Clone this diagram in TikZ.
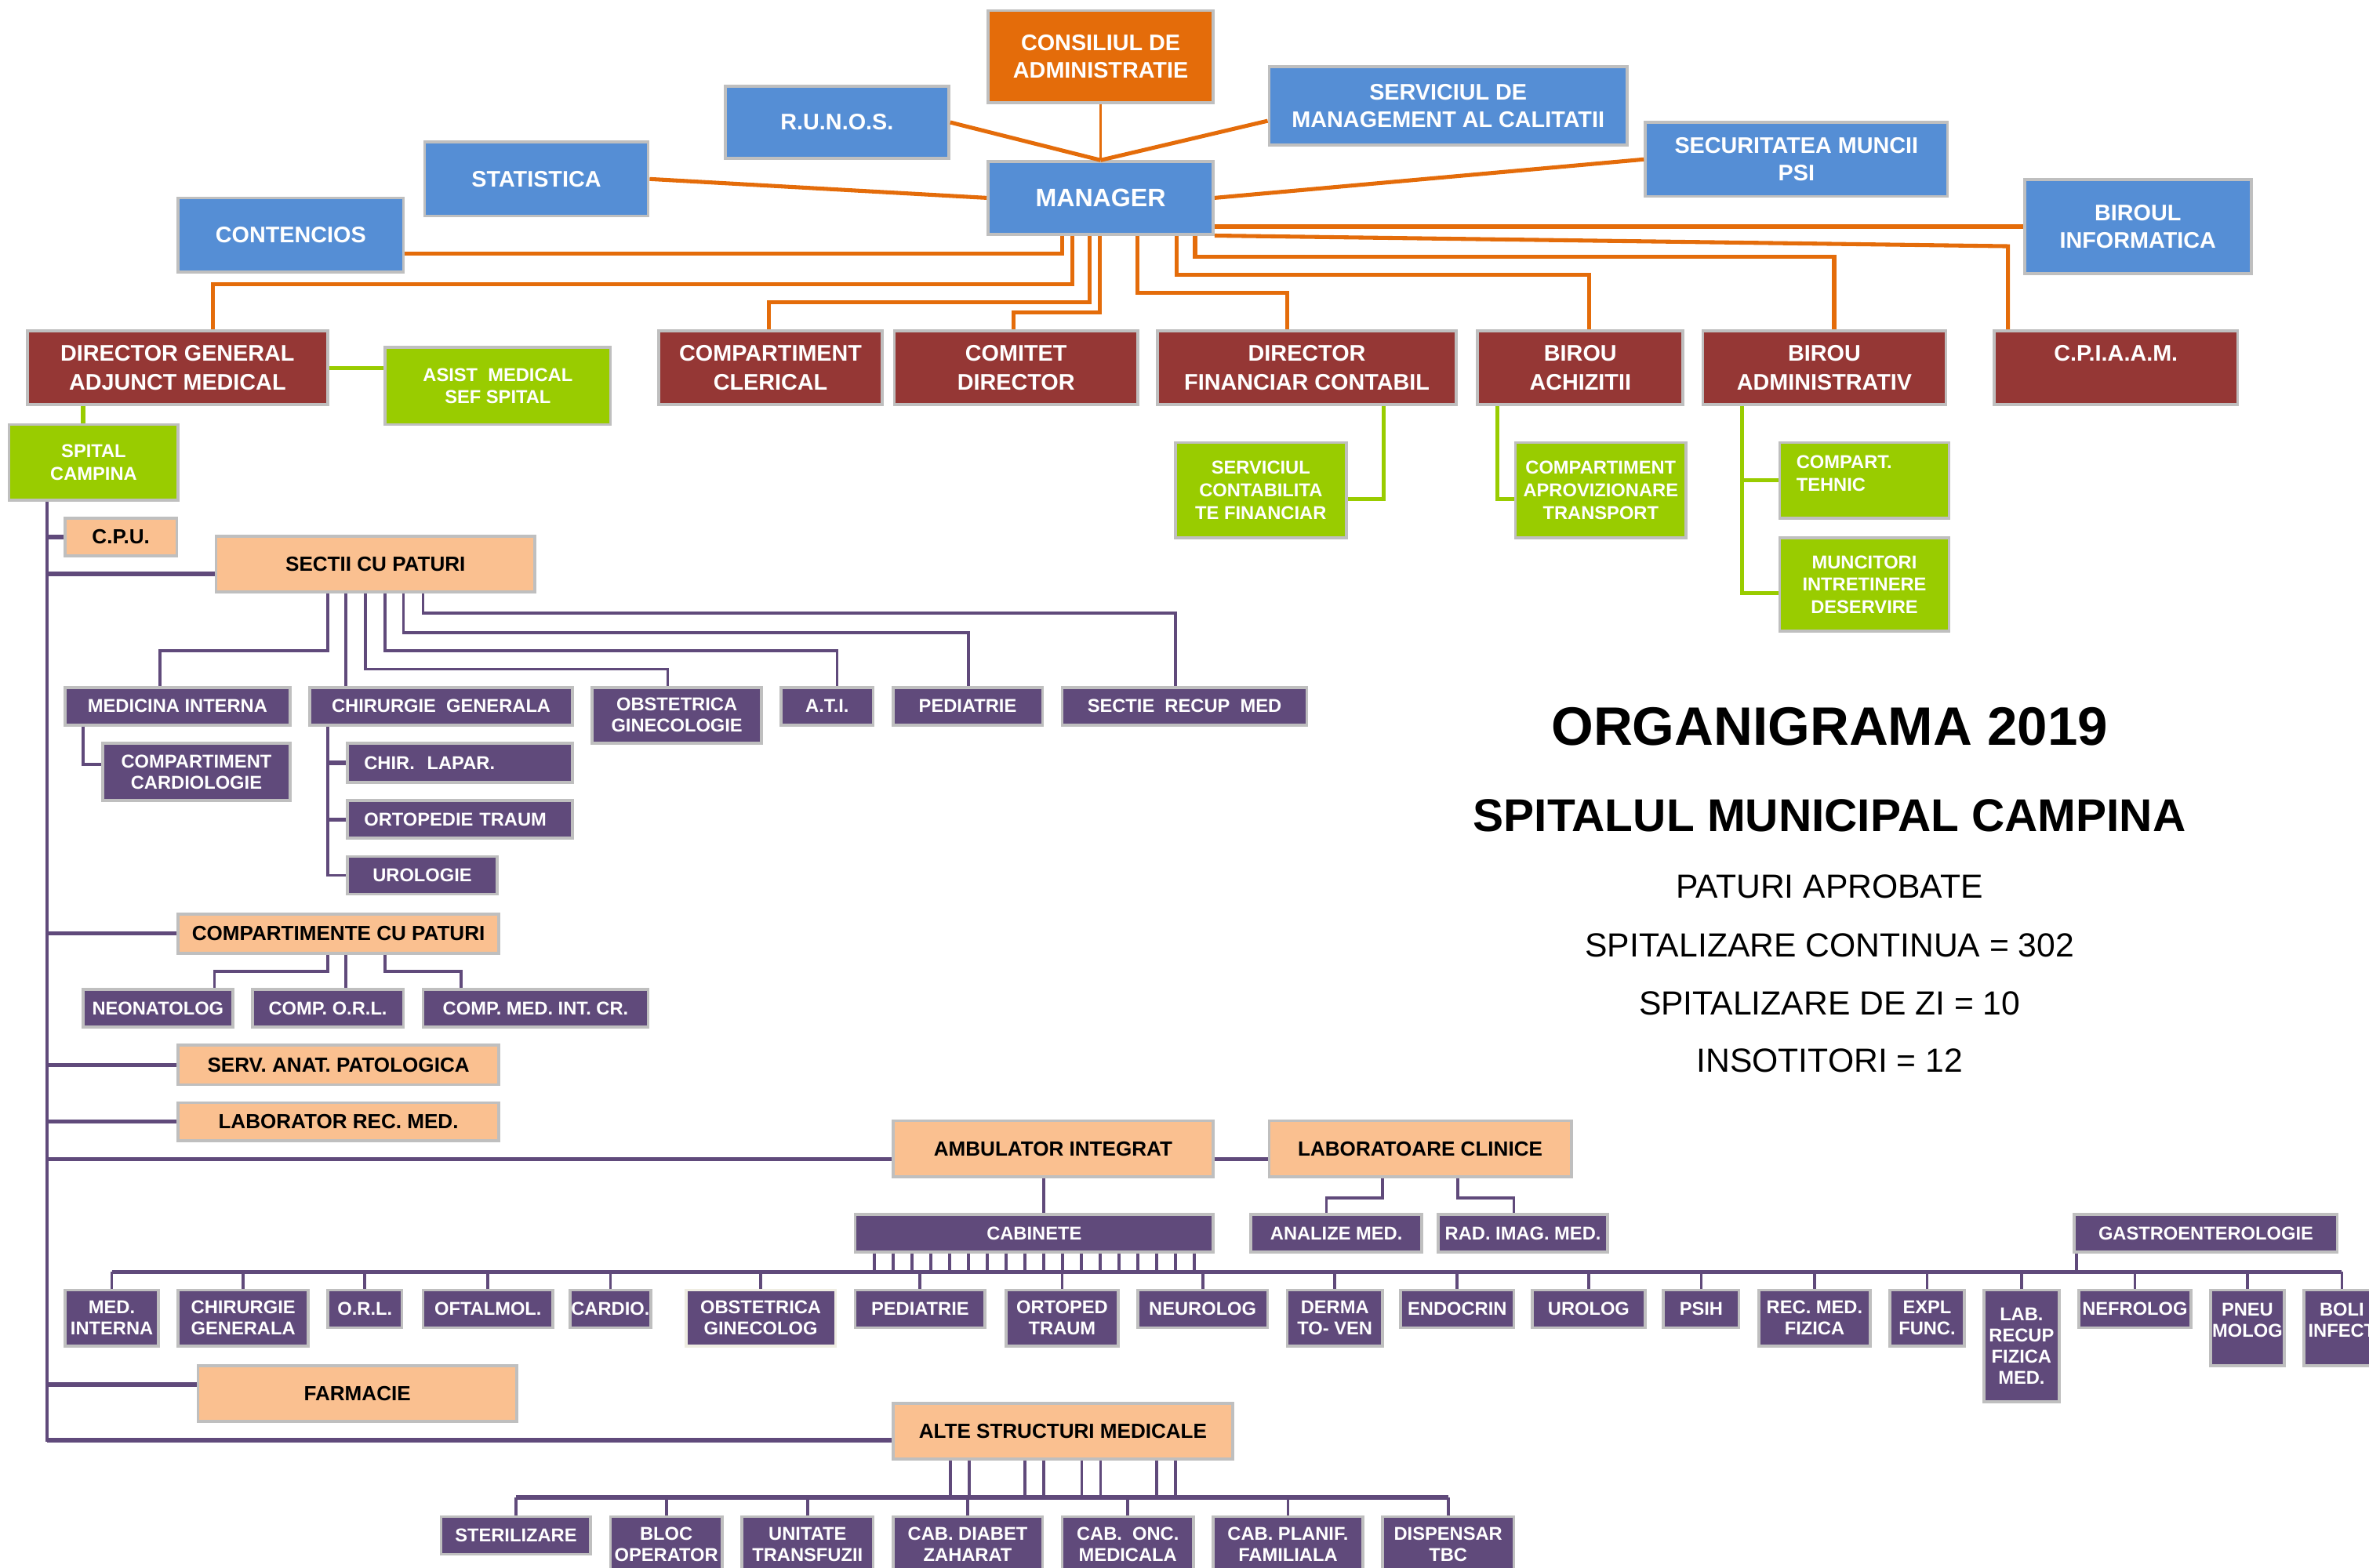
\documentclass[tikz,border=0pt]{standalone}
\usepackage{fontspec}
\setmainfont{Liberation Sans}
\usepackage{xcolor}
\usepackage{tikz}
\usetikzlibrary{positioning}

\definecolor{orgOrange}{HTML}{E46C0A}
\definecolor{orgBlue}{HTML}{558ED5}
\definecolor{orgRed}{HTML}{953735}
\definecolor{orgGreen}{HTML}{99CC00}
\definecolor{orgPeach}{HTML}{FAC090}
\definecolor{orgPurple}{HTML}{604A7B}
\definecolor{orgGray}{HTML}{BFBFBF}
\definecolor{orgCream}{HTML}{EEECE1}

\tikzset{
    orgbox/.style = {rectangle, draw=orgGray, line width=1.1pt, align=center, inner sep=0.5pt},
    sz/.style 2 args = {minimum width=#1*0.02cm, minimum height=#2*0.02cm},
    bluebox/.style = {orgbox, fill=orgBlue, text=white, font=\fontsize{8.5}{10.4}\selectfont\bfseries},
    orangebox/.style = {orgbox, fill=orgOrange, text=white, font=\fontsize{8.5}{10.4}\selectfont\bfseries},
    redbox/.style = {orgbox, fill=orgRed, text=white, font=\fontsize{8.5}{10.8}\selectfont\bfseries},
    greenbox/.style = {orgbox, fill=orgGreen, text=white, font=\fontsize{7}{8.5}\selectfont\bfseries},
    peachbox/.style = {orgbox, fill=orgPeach, text=black, font=\fontsize{7.7}{9}\selectfont\bfseries},
    purplebox/.style = {orgbox, fill=orgPurple, text=white, font=\fontsize{7}{8}\selectfont\bfseries},
    lefttext/.style = {align=left, inner xsep=0.22cm, text width=#1},
    oline/.style = {draw=orgOrange, line width=1.5pt},
    gline/.style = {draw=orgGreen, line width=1.5pt},
    pline/.style = {draw=orgPurple, line width=1.1pt},
    pthick/.style = {draw=orgPurple, line width=1.6pt}
}

\begin{document}
\begin{tikzpicture}[
	x=0.02cm, y=-0.02cm,
	thick
]
\useasboundingbox (0,0) rectangle (1568,1038);

% conducere
\node[orangebox, sz={149}{61}] (cons) at (728.5,37.5) {CONSILIUL DE\\ADMINISTRATIE};
\node[bluebox, sz={148}{48}] (runos) at (554,81) {R.U.N.O.S.};
\node[bluebox, sz={237}{52}] (smc) at (958.5,70) {SERVICIUL DE\\MANAGEMENT AL CALITATII};
\node[bluebox, sz={148}{49}] (stat) at (355,118.5) {STATISTICA};
\node[bluebox, sz={149}{48}, font=\fontsize{9.5}{11}\selectfont\bfseries] (man) at (728.5,131) {MANAGER};
\node[bluebox, sz={200}{49}] (sec) at (1189,105.5) {SECURITATEA MUNCII\\PSI};
\node[bluebox, sz={149}{49}] (cont) at (192.5,155.5) {CONTENCIOS};
\node[bluebox, sz={150}{62}] (info) at (1415,150) {BIROUL\\INFORMATICA};

% directori si birouri
\node[redbox, sz={199}{49}] (dga) at (117.5,243.5) {DIRECTOR GENERAL\\ADJUNCT MEDICAL};
\node[redbox, sz={148}{49}] (clerical) at (510,243.5) {COMPARTIMENT\\CLERICAL};
\node[redbox, sz={161}{49}] (comitet) at (672.5,243.5) {COMITET\\DIRECTOR};
\node[redbox, sz={198}{49}] (dfc) at (865,243.5) {DIRECTOR\\FINANCIAR CONTABIL};
\node[redbox, sz={136}{49}] (achiz) at (1046,243.5) {BIROU\\ACHIZITII};
\node[redbox, sz={161}{49}] (badm) at (1207.5,243.5) {BIROU\\ADMINISTRATIV};
\node[redbox, sz={161}{49}] (cpiaam) at (1400.5,243.5) {C.P.I.A.A.M.\\~};

% compartimente subordonate
\node[greenbox, sz={149}{51}] (asist) at (329.5,255.5) {ASIST~~MEDICAL\\SEF SPITAL};
\node[greenbox, sz={112}{50}] (spital) at (62,306) {SPITAL\\CAMPINA};
\node[greenbox, sz={113}{63}] (scf) at (834.5,324.5) {SERVICIUL\\CONTABILITA\\TE FINANCIAR};
\node[greenbox, sz={113}{63}] (capt) at (1059.5,324.5) {COMPARTIMENT\\APROVIZIONARE\\TRANSPORT};
\node[greenbox, sz={112}{50}, lefttext=1.8cm] (tehnic) at (1234,318) {COMPART.\\TEHNIC\\[-3pt]~};
\node[greenbox, sz={112}{62}] (muncitori) at (1234,387) {MUNCITORI\\INTRETINERE\\DESERVIRE};

% sectii
\node[peachbox, sz={74}{25}] (cpu) at (80,355.5) {C.P.U.};
\node[peachbox, sz={211}{37}] (sectii) at (248.5,373.5) {SECTII CU PATURI};
\node[purplebox, sz={149}{25}] (mi) at (117.5,467.5) {MEDICINA INTERNA};
\node[purplebox, sz={174}{25}] (cg) at (292,467.5) {CHIRURGIE~~GENERALA};
\node[purplebox, sz={112}{37}] (og) at (448,473.5) {OBSTETRICA\\GINECOLOGIE};
\node[purplebox, sz={61}{25}] (ati) at (547.5,467.5) {A.T.I.};
\node[purplebox, sz={99}{25}] (ped) at (640.5,467.5) {PEDIATRIE};
\node[purplebox, sz={162}{25}] (srm) at (784,467.5) {SECTIE~~RECUP~~MED};
\node[purplebox, sz={124}{38}] (cardio) at (130,511) {COMPARTIMENT\\CARDIOLOGIE};
\node[purplebox, sz={149}{26}, lefttext=2.54cm] (lapar) at (304.5,505) {CHIR.~~LAPAR.};
\node[purplebox, sz={149}{25}, lefttext=2.54cm] (orto) at (304.5,542.5) {ORTOPEDIE TRAUM};
\node[purplebox, sz={99}{25}] (uro) at (279.5,579.5) {UROLOGIE};

% compartimente cu paturi
\node[peachbox, sz={212}{26}] (compat) at (224,618) {COMPARTIMENTE CU PATURI};
\node[purplebox, sz={99}{25}] (neo) at (104.5,667.5) {NEONATOLOG};
\node[purplebox, sz={100}{25}] (corl) at (217,667.5) {COMP. O.R.L.};
\node[purplebox, sz={149}{25}] (cmic) at (354.5,667.5) {COMP. MED. INT. CR.};
\node[peachbox, sz={212}{26}] (anat) at (224,705) {SERV. ANAT. PATOLOGICA};
\node[peachbox, sz={212}{25}] (labrec) at (224,742.5) {LABORATOR REC. MED.};

% ambulator
\node[peachbox, sz={212}{37}] (ambu) at (697,760.5) {AMBULATOR INTEGRAT};
\node[peachbox, sz={200}{37}] (labcl) at (940,760.5) {LABORATOARE CLINICE};
\node[purplebox, sz={237}{25}] (cab) at (684.5,816.5) {CABINETE};
\node[purplebox, sz={113}{25}] (anal) at (884.5,816.5) {ANALIZE MED.};
\node[purplebox, sz={112}{25}] (rad) at (1008,816.5) {RAD. IMAG. MED.};
\node[purplebox, sz={174}{25}] (gastro) at (1460,816.5) {GASTROENTEROLOGIE};

\node[purplebox, sz={62}{37}] (c1) at (74,872.5) {MED.\\INTERNA};
\node[purplebox, sz={86}{37}] (c2) at (161,872.5) {CHIRURGIE\\GENERALA};
\node[purplebox, sz={49}{25}] (c3) at (241.5,866.5) {O.R.L.};
\node[purplebox, sz={86}{25}] (c4) at (323,866.5) {OFTALMOL.};
\node[purplebox, sz={50}{25}] (c5) at (404,866.5) {CARDIO.};
\node[purplebox, sz={99}{37}, draw=orgCream] (c6) at (503.5,872.5) {OBSTETRICA\\GINECOLOG};
\node[purplebox, sz={86}{25}] (c7) at (609,866.5) {PEDIATRIE};
\node[purplebox, sz={74}{37}] (c8) at (703,872.5) {ORTOPED\\TRAUM};
\node[purplebox, sz={86}{25}] (c9) at (796,866.5) {NEUROLOG};
\node[purplebox, sz={63}{37}] (c10) at (883.5,872.5) {DERMA\\TO- VEN};
\node[purplebox, sz={75}{25}] (c11) at (964.5,866.5) {ENDOCRIN};
\node[purplebox, sz={75}{25}] (c12) at (1051.5,866.5) {UROLOG};
\node[purplebox, sz={50}{25}] (c13) at (1126,866.5) {PSIH};
\node[purplebox, sz={74}{37}] (c14) at (1201,872.5) {REC. MED.\\FIZICA};
\node[purplebox, sz={49}{37}] (c15) at (1275.5,872.5) {EXPL\\FUNC.};
\node[purplebox, sz={50}{74}] (c16) at (1338,891) {LAB.\\RECUP\\FIZICA\\MED.};
\node[purplebox, sz={74}{25}] (c17) at (1413,866.5) {NEFROLOG};
\node[purplebox, sz={49}{50}] (c18) at (1487.5,879) {PNEU\\MOLOG\\[-2pt]~};
\node[purplebox, sz={50}{50}] (c19) at (1550,879) {BOLI\\INFECT\\[-2pt]~};

% farmacie si alte structuri
\node[peachbox, sz={211}{37}] (farm) at (236.5,922.5) {FARMACIE};
\node[peachbox, sz={225}{37}] (alte) at (703.5,947.5) {ALTE STRUCTURI MEDICALE};
\node[purplebox, sz={99}{25}] (a1) at (341.5,1016.5) {STERILIZARE};
\node[purplebox, sz={74}{37}] (a2) at (441,1022.5) {BLOC\\OPERATOR};
\node[purplebox, sz={87}{37}] (a3) at (534.5,1022.5) {UNITATE\\TRANSFUZII};
\node[purplebox, sz={99}{37}] (a4) at (640.5,1022.5) {CAB. DIABET\\ZAHARAT};
\node[purplebox, sz={87}{37}] (a5) at (746.5,1022.5) {CAB.~~ONC.\\MEDICALA};
\node[purplebox, sz={99}{37}] (a6) at (852.5,1022.5) {CAB. PLANIF.\\FAMILIALA};
\node[purplebox, sz={87}{37}] (a7) at (958.5,1022.5) {DISPENSAR\\TBC};

% titlu
\node[font=\fontsize{20.4}{24}\selectfont\bfseries] (titlu) at (1211,481) {ORGANIGRAMA 2019};
\node[font=\fontsize{17.3}{20}\selectfont\bfseries] (spm) at (1211,540) {SPITALUL MUNICIPAL CAMPINA};
\node[font=\fontsize{12.6}{15}\selectfont] (pat) at (1211,587) {PATURI APROBATE};
\node[font=\fontsize{12.6}{15}\selectfont] (cont1) at (1211,626) {SPITALIZARE CONTINUA = 302};
\node[font=\fontsize{12.6}{15}\selectfont] (zi) at (1211,664) {SPITALIZARE DE ZI = 10};
\node[font=\fontsize{12.6}{15}\selectfont] (inso) at (1211,702) {INSOTITORI = 12};

% legaturi manager
\draw[oline, line width=1pt] (cons) -- (man);
\draw[oline] (runos.east) -- (man.north);
\draw[oline] ([yshift=-0.2cm]smc.west) -- (man.north);
\draw[oline] (stat.east) -- (man.west);
\draw[oline] (sec.west) -- (man.east);
\draw[oline] (info.west) -- (info.west -| man.east);
\coordinate (kcp) at (1329,163);
\draw[oline] (man.south east) -- (kcp) -- (kcp |- cpiaam.north);
\draw[oline] (man.south -| 703,0) |- ([yshift=-0.25cm]cont.east);
\draw[oline] (man.south -| 710,0) -- ++(0,32) -| (dga.north -| 141,0);
\draw[oline] (man.south -| 721,0) -- ++(0,44) -| (clerical.north -| 509,0);
\draw[oline] (man.south -| 728,0) -- ++(0,51) -| (comitet.north -| 671,0);
\draw[oline] (man.south -| 753,0) -- ++(0,38) -| (dfc.north -| 852,0);
\draw[oline] (man.south -| 779,0) -- ++(0,26) -| (achiz.north -| 1052,0);
\draw[oline] (man.south -| 791,0) -- ++(0,14) -| (badm.north -| 1214,0);

% legaturi verzi
\draw[gline] (dga.east) -- (asist.west |- dga.east);
\draw[gline] (dga.south -| 55,0) -- (spital.north -| 55,0);
\draw[gline] (dfc.south -| 916,0) |- ([yshift=-0.12cm]scf.east);
\draw[gline] (achiz.south -| 991,0) |- ([yshift=-0.12cm]capt.west);
\draw[gline] (badm.south -| 1153,0) |- ([yshift=-0.11cm]muncitori.west);
\draw[gline] (tehnic.west -| 1153,0) -- (tehnic.west);

% spital
\draw[pline] (spital.south -| 31,0) |- ([yshift=-0.12cm]alte.west);
\draw[pthick] (cpu.west -| 31,0) -- (cpu.west);
\draw[pthick] ([yshift=-0.13cm]sectii.west -| 31,0) -- ([yshift=-0.13cm]sectii.west);
\draw[pthick] (compat.west -| 31,0) -- (compat.west);
\draw[pthick] (anat.west -| 31,0) -- (anat.west);
\draw[pthick] (labrec.west -| 31,0) -- (labrec.west);
\draw[pthick] ([yshift=-0.14cm]ambu.west -| 31,0) -- ([yshift=-0.14cm]ambu.west);
\draw[pthick] ([yshift=0.12cm]farm.west -| 31,0) -- ([yshift=0.12cm]farm.west);
\draw[pthick] ([yshift=-0.12cm]alte.west -| 31,0) -- ([yshift=-0.12cm]alte.west);

% sectii cu paturi
\draw[pline] (sectii.south -| 217,0) -- ++(0,38) -| (mi.north -| 106,0);
\draw[pline] (sectii.south -| 229,0) -- (cg.north -| 229,0);
\draw[pline] (sectii.south -| 242,0) -- ++(0,50) -| (og.north -| 442,0);
\draw[pline] (sectii.south -| 255,0) -- ++(0,38) -| (ati.north -| 554,0);
\draw[pline] (sectii.south -| 267,0) -- ++(0,26) -| (ped.north -| 641,0);
\draw[pline] (sectii.south -| 280,0) -- ++(0,13) -| (srm.north -| 778,0);
\draw[pline] (mi.south -| 55,0) |- ([yshift=0.1cm]cardio.west);
\draw[pline] (cg.south -| 217,0) |- (uro.west);
\draw[pthick] (lapar.west -| 217,0) -- (lapar.west);
\draw[pthick] (orto.west -| 217,0) -- (orto.west);

% compartimente cu paturi
\draw[pline] (compat.south -| 217,0) -- ++(0,11) -| (neo.north -| 142,0);
\draw[pline] (compat.south -| 229,0) -- (corl.north -| 229,0);
\draw[pline] (compat.south -| 255,0) -- ++(0,11) -| (cmic.north -| 305,0);

% ambulator
\draw[pthick] ([yshift=-0.14cm]ambu.east) -- ([yshift=-0.14cm]ambu.east -| labcl.west);
\draw[pline] (ambu.south -| 691,0) -- (cab.north -| 691,0);
\draw[pline] (labcl.south -| 915,0) -- ++(0,13) -| (anal.north -| 878,0);
\draw[pline] (labcl.south -| 965,0) -- ++(0,13) -| (rad.north -| 1002,0);
\coordinate (cbus) at (0,842);
\foreach \i in {0,...,17}
    \draw[pline] ([xshift={(\i*0.2494-2.118)*1cm}]cab.south) -- ++(0,13);
\draw[pthick] (c1.north |- cbus) -- (c19.north |- cbus);
\foreach \i in {1,...,19}
    \draw[pline] (c\i.north) -- (c\i.north |- cbus);
\coordinate (gdrop) at ([xshift=0.05cm]gastro.south west);
\draw[pline] (gdrop) -- (gdrop |- cbus);

% alte structuri
\coordinate (abus) at (0,991.4);
\foreach \dx in {-1.49,-1.24,-0.5,-0.25,0.25,0.5,1.24,1.49}
    \draw[pline] ([xshift=\dx cm]alte.south) -- ++(0,25);
\draw[pthick] (a1.north |- abus) -- (a7.north |- abus);
\foreach \i in {1,...,7}
    \draw[pline] (a\i.north) -- (a\i.north |- abus);
\end{tikzpicture}
\end{document}
